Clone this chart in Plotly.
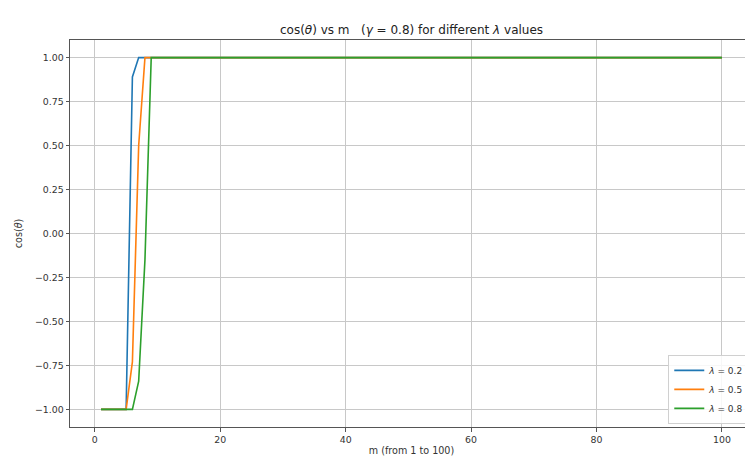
import plotly.graph_objects as go

m_values = list(range(1, 101))

# cos(theta) values (step transition near m = 5..9, then constant 1)
cos_lam_02 = [-1.0] * 5 + [0.89] + [1.0] * 94
cos_lam_05 = [-1.0] * 5 + [-0.73, 0.50] + [1.0] * 93
cos_lam_08 = [-1.0] * 6 + [-0.84, -0.15] + [1.0] * 92

series_names = ["<i>λ</i> = 0.2", "<i>λ</i> = 0.5", "<i>λ</i> = 0.8"]
series_values = [cos_lam_02, cos_lam_05, cos_lam_08]
series_colors = ["#1f77b4", "#ff7f0e", "#2ca02c"]

x_ticks = [0, 20, 40, 60, 80, 100]
y_ticks = [-1.0, -0.75, -0.5, -0.25, 0.0, 0.25, 0.5, 0.75, 1.0]
y_tick_labels = ["−1.00", "−0.75", "−0.50", "−0.25", "0.00", "0.25", "0.50", "0.75", "1.00"]

fig = go.Figure()
for name, vals, col in zip(series_names, series_values, series_colors):
    fig.add_trace(go.Scatter(x=m_values, y=vals, mode="lines", name=name,
                             line=dict(color=col, width=1.6)))

font_family = "DejaVu Sans"
W, H = 745, 451  # page has an 8px body margin
fig.update_layout(
    width=W, height=H,
    margin=dict(l=62, r=0, t=32, b=32),
    paper_bgcolor="white", plot_bgcolor="white",
    font=dict(family=font_family, size=9.4, color="#333333"),
    title=dict(text="cos(<i>θ</i>) vs m   (<i>γ</i> = 0.8) for different <i>λ</i> values",
               x=(62 + W) / 2 / W, xanchor="center", y=1 - 22 / H, yanchor="middle",
               font=dict(size=12, color="#222222")),
    showlegend=True,
    legend=dict(x=0.996, y=0.008, xanchor="right", yanchor="bottom",
                bgcolor="rgba(255,255,255,0.85)", bordercolor="#d0d0d0", borderwidth=1,
                font=dict(size=9, color="#333333"), tracegroupgap=0,
                itemwidth=30),
)
fig.update_xaxes(range=[-3.95, 104.95], tickmode="array", tickvals=x_ticks,
                 showgrid=True, gridcolor="#c8c8c8", gridwidth=1,
                 showline=True, linecolor="#555555", linewidth=1, mirror=True,
                 ticks="outside", ticklen=3.5, tickcolor="#555555", zeroline=False,
                 title=dict(text="m (from 1 to 100)", font=dict(size=9.6), standoff=3))
fig.update_yaxes(range=[-1.1, 1.1], tickmode="array", tickvals=y_ticks, ticktext=y_tick_labels,
                 showgrid=True, gridcolor="#c8c8c8", gridwidth=1,
                 showline=True, linecolor="#555555", linewidth=1, mirror=True,
                 ticks="outside", ticklen=3.5, tickcolor="#555555", zeroline=False,
                 title=dict(text="cos(<i>θ</i>)", font=dict(size=9.6), standoff=10))

fig.write_html("out.html")
